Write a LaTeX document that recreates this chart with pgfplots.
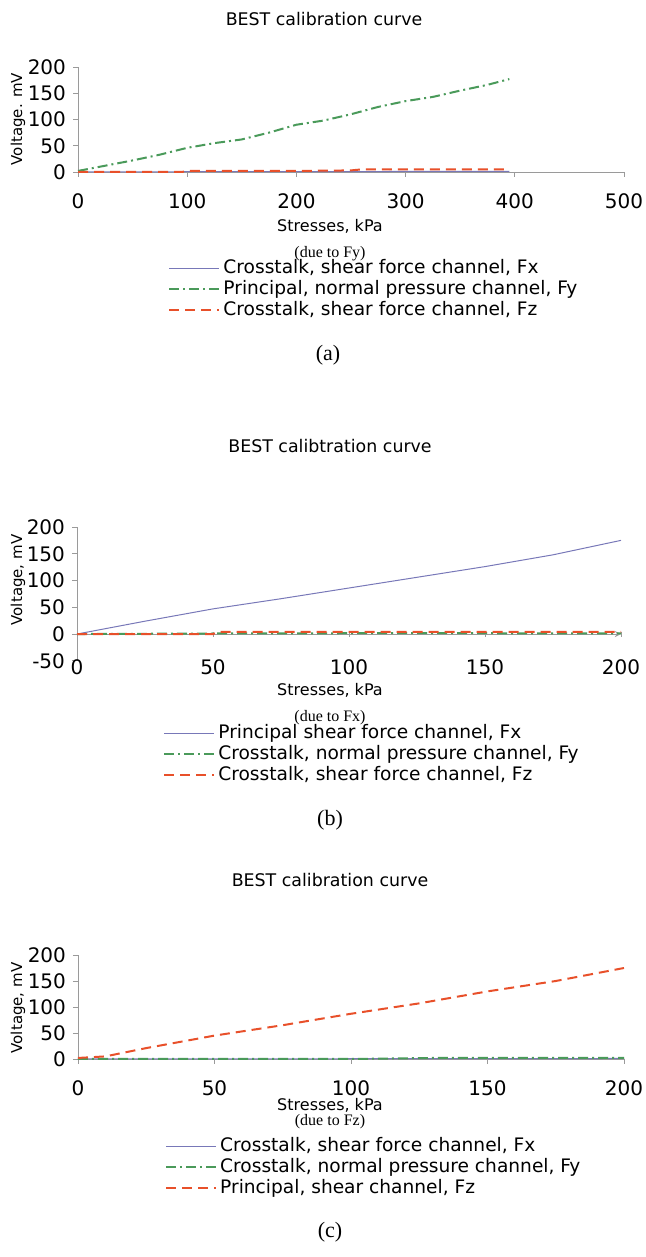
\documentclass[border=0pt]{standalone}
\usepackage{fontspec}
\setmainfont{DejaVu Sans}
\newfontfamily\serif{Liberation Serif}
\usepackage{pgfplots}
\pgfplotsset{compat=1.18}
\definecolor{FxBlue}{HTML}{7878B8}
\definecolor{FyGreen}{HTML}{4A9A5A}
\definecolor{FzRed}{HTML}{E8502A}
\definecolor{AxGray}{HTML}{9A9A9A}

\pgfplotsset{
  calib/.style={
    scale only axis, width=273pt, height=52.5pt,
    axis x line=bottom, axis y line=left, axis line style={AxGray,-},
    tick style={AxGray, thin}, tick align=outside, major tick length=2.5pt,
    ticklabel style={font=\fontsize{10}{12}\selectfont, text=black},
    /pgf/number format/assume math mode=true,
    clip=false, ymin=0, ymax=200, ytick={0,50,...,200},
    xticklabel shift=5pt,
    legend style={draw=none, fill=none, anchor=north west, inner sep=0pt,
      row sep=0pt, font=\fontsize{9.3}{10.5}\selectfont,
      nodes={text height=6.9pt, text depth=2.1pt, inner ysep=0.75pt, inner xsep=1.5pt}},
    legend image code/.code={\draw[##1] (0pt,0pt) -- (25pt,0pt);},
    legend cell align=left,
  },
  fx/.style={FxBlue, line width=0.5pt},
  fy/.style={FyGreen, line width=1pt, dash pattern=on 5pt off 2pt on 1pt off 2pt},
  fz/.style={FzRed, line width=1pt, dash pattern=on 5pt off 3pt},
}

\begin{document}
\begin{tikzpicture}
\useasboundingbox (0,0) rectangle (322.5pt,628.5pt);

% ---------- (a) due to Fy
\node[font=\fontsize{8.7}{10}\selectfont] at (162pt,619pt) {BEST calibration curve};
\node[font=\fontsize{7.5}{9}\selectfont, rotate=90] at (9pt,569pt) {Voltage. mV};
\begin{axis}[calib, at={(39pt,542.5pt)}, anchor=south west,
    xmin=0, xmax=500, xtick={0,100,...,500},
    legend style={at={(0.165,-0.814)}}]
\addplot[fx] coordinates {(0,0) (100,0.5) (200,0.5) (300,1) (395,1)};
\addplot[fy] coordinates {(0,2) (25,12) (50,22) (75,33) (100,46) (125,55) (150,62)
  (175,75) (200,90) (225,98) (250,110) (275,124) (300,135) (325,143) (350,155)
  (375,166) (395,177)};
\addplot[fz] coordinates {(0,0) (50,0) (95,0) (100,2) (150,2) (200,2) (250,3)
  (260,5) (300,5) (350,5) (395,5)};
\legend{Crosstalk{,} shear force channel{,} Fx,
  Principal{,} normal pressure channel{,} Fy,
  Crosstalk{,} shear force channel{,} Fz}
\end{axis}
\node[font=\fontsize{8}{9.5}\selectfont] at (165pt,515.5pt) {Stresses, kPa};
\node[font=\serif\fontsize{8}{9}\selectfont] at (165pt,501.5pt) {(due to Fy)};
\node[font=\serif\fontsize{11}{13}\selectfont] at (164pt,451pt) {(a)};

% ---------- (b) due to Fx
\node[font=\fontsize{8.7}{10}\selectfont] at (165pt,405.5pt) {BEST calibtration curve};
\node[font=\fontsize{7.5}{9}\selectfont, rotate=90] at (9pt,338.5pt) {Voltage, mV};
\begin{axis}[calib, at={(38.5pt,298.1pt)}, anchor=south west,
    width=272pt, height=66.9pt,
    ymin=-50, ytick={-50,0,...,200},
    axis x line=middle, hide obscured x ticks=false, hide obscured y ticks=false,
    xticklabel shift=8pt,
    xmin=0, xmax=200, xtick={0,50,...,200},
    legend style={at={(0.158,-0.461)}}]
\addplot[fx] coordinates {(0,0) (25,24) (50,47) (75,66) (100,86) (125,106)
  (150,126) (175,148) (200,175)};
\addplot[fy] coordinates {(0,0) (50,1) (100,1.5) (150,1.5) (200,1)};
\addplot[fz] coordinates {(0,0) (50,0) (52,4) (100,4) (150,4) (200,4)};
\legend{Principal shear force channel{,} Fx,
  Crosstalk{,} normal pressure channel{,} Fy,
  Crosstalk{,} shear force channel{,} Fz}
\end{axis}
\node[font=\fontsize{8}{9.5}\selectfont] at (165pt,283.5pt) {Stresses, kPa};
\node[font=\serif\fontsize{8}{9}\selectfont] at (165pt,269.5pt) {(due to Fx)};
\node[font=\serif\fontsize{11}{13}\selectfont] at (165pt,218.5pt) {(b)};

% ---------- (c) due to Fz
\node[font=\fontsize{8.7}{10}\selectfont] at (165pt,188.5pt) {BEST calibration curve};
\node[font=\fontsize{7.5}{9}\selectfont, rotate=90] at (9pt,124.5pt) {Voltage, mV};
\begin{axis}[calib, at={(39pt,99pt)}, anchor=south west,
    height=52pt,
    xmin=0, xmax=200, xtick={0,50,...,200},
    legend style={at={(0.159,-0.736)}}]
\addplot[fx] coordinates {(0,0) (100,0.5) (200,1)};
\addplot[fy] coordinates {(0,0) (50,0) (100,0) (130,2) (160,2) (200,2)};
\addplot[fz] coordinates {(0,2) (10,5) (25,21) (50,45) (75,65) (100,87) (125,107)
  (150,130) (175,150) (190,165) (200,175)};
\legend{Crosstalk{,} shear force channel{,} Fx,
  Crosstalk{,} normal pressure channel{,} Fy,
  Principal{,} shear channel{,} Fz}
\end{axis}
\node[font=\fontsize{8}{9.5}\selectfont, inner ysep=1pt] at (165pt,76pt) {Stresses, kPa};
\node[font=\serif\fontsize{8}{9}\selectfont, inner ysep=1pt] at (165pt,67.5pt) {(due to Fz)};
\node[font=\serif\fontsize{11}{13}\selectfont] at (165pt,12.5pt) {(c)};
\end{tikzpicture}
\end{document}
